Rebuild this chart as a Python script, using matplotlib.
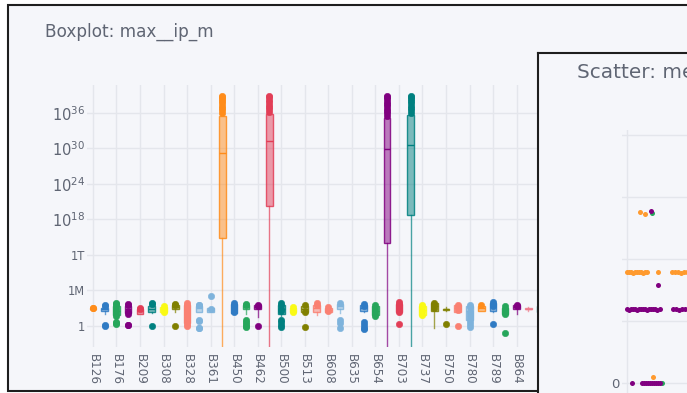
import numpy as np
import matplotlib
matplotlib.use("Agg")
import matplotlib.pyplot as plt
from matplotlib.patches import Rectangle
from matplotlib.colors import to_rgba
from matplotlib.transforms import ScaledTranslation

plt.rcParams['font.family'] = ['DejaVu Sans']
plt.rcParams['mathtext.fontset'] = 'dejavusans'

# ---------------- data: boxplot (values given as log10) ----------------
categories = ["B126", "B151", "B176", "B188", "B209", "B251", "B308", "B315", "B328", "B342",
              "B361", "B412", "B450", "B455", "B462", "B477", "B500", "B506", "B513", "B560",
              "B608", "B621", "B635", "B641", "B654", "B688", "B703", "B719", "B737", "B744",
              "B750", "B766", "B780", "B785", "B789", "B833", "B864", "B877", "B891", "B902"]

box_colors = ["#FF8C1A", "#2F7BC4", "#26A65B", "#800080", "#E23E57", "#008080", "#FAFA14", "#808000",
              "#FA8072", "#7EB3DC", "#7EB3DC", "#FF8C1A", "#2F7BC4", "#26A65B", "#800080", "#E23E57",
              "#008080", "#FAFA14", "#808000", "#FA8072", "#FA8072", "#7EB3DC", "#FF8C1A", "#2F7BC4",
              "#26A65B", "#800080", "#E23E57", "#008080", "#FAFA14", "#808000", "#808000", "#FA8072",
              "#7EB3DC", "#FF8C1A", "#2F7BC4", "#26A65B", "#800080", "#EE7A8A", "#008080", "#FAFA14"]

q1_log = [2.9, 2.6, 1.8, 2.2, 2.1, 2.4, 2.3, 2.9, 0.5, 2.4,
          2.4, 14.9, 2.2, 2.8, 2.9, 20.3, 2.0, 2.3, 2.3, 2.3,
          2.3, 2.9, None, 2.6, 1.8, 14.0, 2.3, 18.75, 1.9, 2.6,
          2.7, 2.4, 1.0, 2.6, 2.5, 2.0, 2.9, 2.8, 2.4, 2.5]
med_log = [3.0, 2.9, 2.6, 2.8, 2.5, 2.9, 2.8, 3.2, 2.2, 3.0,
           2.7, 29.2, 3.0, 3.2, 3.2, 31.25, 2.9, 2.7, 2.9, 3.0,
           2.7, 3.3, None, 3.1, 2.6, 29.85, 3.0, 30.5, 2.7, 3.3,
           2.85, 3.0, 2.5, 3.0, 3.2, 2.6, 3.2, 2.9, 2.9, 3.0]
q3_log = [3.1, 3.1, 3.4, 3.3, 2.9, 3.3, 3.2, 3.5, 3.6, 3.4,
          3.0, 35.5, 3.7, 3.5, 3.5, 35.8, 3.5, 3.1, 3.4, 3.6,
          3.1, 3.7, None, 3.5, 3.3, 35.1, 3.7, 35.6, 3.4, 3.95,
          2.95, 3.5, 3.4, 3.3, 3.8, 3.1, 3.5, 3.0, 3.3, 3.4]
lo_log = [2.9, 2.1, 1.6, 1.9, 2.0, 2.15, 2.15, 2.4, -0.1, 2.3,
          2.4, -10, 2.15, 2.0, 1.55, -10, 1.7, 2.15, 2.15, 1.85,
          2.15, 2.15, None, 2.4, 1.55, -10, 2.0, -10, 1.55, -0.4,
          2.45, 2.4, -0.1, 2.55, 2.4, 1.85, 2.0, 2.6, 2.2, 2.3]
hi_log = [3.1, 3.2, 3.6, 3.4, 3.0, 3.5, 3.4, 3.6, 3.95, 3.55,
          3.0, 35.5, 3.85, 3.7, 3.55, 35.8, 3.95, 3.25, 3.55, 3.85,
          3.25, 3.85, None, 3.7, 3.55, 35.1, 4.1, 35.6, 3.7, 3.95,
          3.15, 3.65, 3.7, 3.55, 4.1, 3.4, 3.55, 3.2, 3.5, 3.6]
fliers_log = [
    [3.0, 3.1],
    [3.4, 3.6, 0.0, 0.1],
    [3.9, 3.7, 3.5, 3.0, 2.5, 2.0, 1.7, 0.7, 0.5, 0.3],
    [3.65, 3.5, 2.3, 2.0, 0.25, 0.1],
    [3.0, 2.9],
    [3.95, 3.7, 0.05],
    [3.3, 2.9, 2.4],
    [3.7, 3.55, 0.05],
    [3.9, 3.6, 3.2, 2.8, 2.4, 2.0, 1.6, 1.2, 0.8, 0.4, 0.0],
    [3.55, 3.5, 1.0, 0.8, -0.3, -0.4],
    [5.1, 2.9],
    [36.0, 36.4, 36.8, 37.2, 37.6, 38.0, 38.4, 38.7, 38.9],
    [3.8, 3.5, 3.2, 2.8, 2.4],
    [3.7, 3.6, 1.0, 0.7, 0.4, 0.0, -0.2],
    [3.55, 3.4, 0.0],
    [36.2, 36.6, 37.0, 37.4, 37.8, 38.2, 38.6, 38.9],
    [3.95, 3.6, 2.9, 2.6, 1.0, 0.6, 0.2, -0.1],
    [3.2, 2.4],
    [3.5, 2.3, -0.1],
    [3.8, 3.5],
    [3.2, 2.6],
    [3.8, 1.0, 0.5, -0.4],
    [],
    [3.7, 3.3, 0.7, 0.2, -0.3, -0.55],
    [3.5, 3.1, 2.6, 2.1, 1.7],
    [35.5, 35.9, 36.3, 36.7, 37.1, 37.5, 37.9, 38.3, 38.6, 38.9],
    [4.0, 3.7, 3.3, 2.8, 2.3, 0.3],
    [36.0, 36.4, 36.8, 37.2, 37.6, 38.0, 38.4, 38.7, 38.9],
    [3.6, 3.2, 2.6, 1.9],
    [3.9, 3.5, 3.1],
    [0.3],
    [3.6, 3.2, 2.7, 0.0],
    [3.6, 3.2, 2.4, 1.8, 1.3, 0.8, 0.3, -0.1],
    [3.5],
    [4.0, 3.7, 3.4, 0.3],
    [3.3, 2.9, 2.4, 2.0, -1.25],
    [3.5, 3.4],
    [],
    [3.4],
    [3.5],
]

ytick_vals = [1, 1e6, 1e12, 1e18, 1e24, 1e30, 1e36]
ytick_labels = ["1", "1M", "1T", r"$10^{18}$", r"$10^{24}$", r"$10^{30}$", r"$10^{36}$"]

# ---------------- data: scatter ----------------
orange_x = [0.0, 0.2, 0.4, 0.6, 0.8, 1.0, 1.2, 1.4, 1.6, 1.8, 2.0, 3.1, 4.5, 4.8, 5.1, 5.4, 5.7, 6.0, 1.3, 1.8, 2.6]
orange_y = [1.79, 1.80, 1.79, 1.78, 1.79, 1.80, 1.79, 1.79, 1.78, 1.79, 1.79, 1.79, 1.79, 1.80, 1.79, 1.78, 1.79, 1.79, 2.76, 2.73, 0.10]
purple_x = [0.0, 0.2, 0.4, 0.6, 0.8, 1.0, 1.2, 1.4, 1.6, 1.8, 2.0, 2.2, 2.4, 2.6, 2.8, 3.0, 3.3,
            4.6, 4.9, 5.2, 5.5, 5.8, 6.1, 3.1, 2.4, 0.5, 1.5, 1.7, 1.9, 2.1, 2.3, 2.5, 2.7, 2.9, 3.1, 3.3]
purple_y = [1.19, 1.18, 1.19, 1.20, 1.19, 1.18, 1.19, 1.20, 1.19, 1.19, 1.18, 1.19, 1.20, 1.19, 1.19, 1.18, 1.19,
            1.19, 1.19, 1.18, 1.19, 1.20, 1.19, 1.59, 2.78, 0.0, 0.0, 0.01, 0.0, 0.0, 0.01, 0.0, 0.0, 0.01, 0.0, 0.0]
green_x = [2.5, 3.5]
green_y = [2.74, 0.0]

BG = "#F5F6FA"
GRID = "#E4E6EC"
TXT = "#5F6573"
EDGE = "#1E1E1E"

fig = plt.figure(figsize=(6.87, 3.93), dpi=100)
fig.patch.set_facecolor("white")

frame = Rectangle((8 / 687, 2 / 393), 1.2, 1 - 4.5 / 393 - 2 / 393, transform=fig.transFigure,
                  facecolor=BG, edgecolor=EDGE, linewidth=1.5, zorder=-10)
fig.add_artist(frame)

# ---------------- boxplot ----------------
ax = fig.add_axes([87 / 687, 46 / 393, 40 * 11.77 / 687, 262 / 393])
ax.set_facecolor(BG)
ax.set_yscale("log")

stats, pos, cols = [], [], []
for i in range(len(categories)):
    if q1_log[i] is None:
        continue
    stats.append(dict(med=10 ** med_log[i], q1=10 ** q1_log[i], q3=10 ** q3_log[i],
                      whislo=10 ** lo_log[i], whishi=10 ** hi_log[i],
                      fliers=np.array([10 ** v for v in fliers_log[i]])))
    pos.append(i)
    cols.append(box_colors[i])

art = ax.bxp(stats, positions=pos, widths=0.56, patch_artist=True, showcaps=False, manage_ticks=False)
for k, c in enumerate(cols):
    art["boxes"][k].set(facecolor=to_rgba(c, 0.5), edgecolor=to_rgba(c, 0.85), linewidth=1.0, zorder=3)
    art["medians"][k].set(color=c, linewidth=1.0, zorder=3)
    art["whiskers"][2 * k].set(color=c, alpha=0.7, linewidth=1.0, zorder=2)
    art["whiskers"][2 * k + 1].set(color=c, alpha=0.7, linewidth=1.0, zorder=2)
    art["fliers"][k].set(marker="o", markerfacecolor=c, markeredgecolor=c, markersize=4.6,
                         markeredgewidth=0.4, zorder=4)

ax.set_xlim(-0.5, len(categories) - 0.5)
ax.set_ylim(10 ** -3.55, 10 ** 40.7)
ax.set_xticks(list(range(0, len(categories), 2)))
ax.set_xticklabels(categories[::2], rotation=-90, fontsize=8.6, color=TXT)
shift = ScaledTranslation(-4 / 100, 0, fig.dpi_scale_trans)
for lab in ax.get_xticklabels():
    lab.set_transform(lab.get_transform() + shift)
ax.set_yticks(ytick_vals)
ax.set_yticklabels(ytick_labels, color=TXT)
for lab, v in zip(ax.get_yticklabels(), ytick_vals):
    lab.set_fontsize(8.3 if v <= 1e12 else 10.5)
ax.yaxis.set_minor_locator(matplotlib.ticker.NullLocator())
ax.tick_params(axis="both", length=0)
ax.tick_params(axis="x", pad=5)
ax.tick_params(axis="y", pad=1.5)
ax.grid(True, color=GRID, linewidth=1.0, zorder=0)
ax.set_axisbelow(True)
for s in ax.spines.values():
    s.set_visible(False)

fig.text(45 / 687, 1 - 37 / 393, "Boxplot: max__ip_m", fontsize=12.2, color=TXT,
         ha="left", va="baseline")

# ---------------- overlay scatter panel ----------------
panel = fig.add_axes([537.5 / 687, -0.3, 0.5, (1 - 52.5 / 393) + 0.3], zorder=5)
panel.set_facecolor(BG)
panel.set_xticks([])
panel.set_yticks([])
for name, s in panel.spines.items():
    if name in ("left", "top"):
        s.set_color(EDGE)
        s.set_linewidth(1.5)
    else:
        s.set_visible(False)

sax = fig.add_axes([622 / 687, -7 / 393, 400 / 687, 270 / 393], zorder=6)
sax.set_facecolor("none")
sax.scatter(orange_x, orange_y, s=13, color="#FF9A2E", linewidths=0, zorder=3)
sax.scatter(green_x, green_y, s=13, color="#26A65B", linewidths=0, zorder=3)
sax.scatter(purple_x, purple_y, s=13, color="#800080", linewidths=0, zorder=4)
sax.set_xlim(-0.5, 39.5)
sax.set_ylim(-0.27, 4.085)
sax.set_xticks([0])
sax.set_xticklabels([""])
sax.set_yticks([0, 1, 2, 3, 4])
sax.set_yticklabels(["0", "", "", "", ""], fontsize=9.5, color=TXT)
sax.tick_params(axis="both", length=0, pad=2)
sax.grid(True, color=GRID, linewidth=1.0, zorder=0)
sax.set_axisbelow(True)
for s in sax.spines.values():
    s.set_visible(False)

fig.text(577 / 687, 1 - 78 / 393, "Scatter: mean__ip_m", fontsize=14.4, color=TXT,
         ha="left", va="baseline", zorder=7)

fig.savefig("out.png", dpi=100)
